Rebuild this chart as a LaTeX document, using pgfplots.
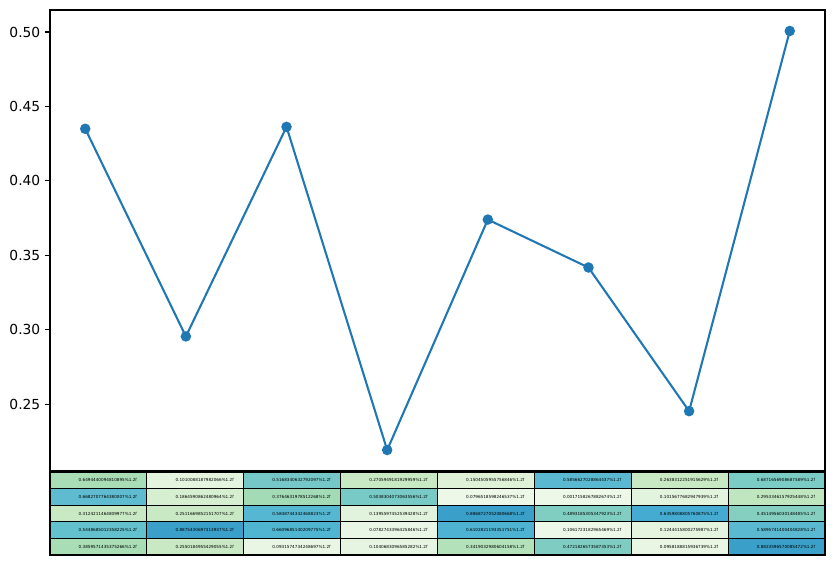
\documentclass[border=0pt]{standalone}
\usepackage{pgfplots}
\pgfplotsset{compat=1.18}
\usepackage{fontspec}
\setmainfont{DejaVu Sans}
\definecolor{mplblue}{HTML}{1F77B4}
% cell colours, row r (top=1), column c
\definecolor{t11}{HTML}{A8DDB5}\definecolor{t12}{HTML}{E4F4DF}\definecolor{t13}{HTML}{76C8C8}\definecolor{t14}{HTML}{C8E9C3}
\definecolor{t15}{HTML}{DFF2D8}\definecolor{t16}{HTML}{5AB9D0}\definecolor{t17}{HTML}{C8E9C3}\definecolor{t18}{HTML}{7BCCC4}
\definecolor{t21}{HTML}{5FBCD0}\definecolor{t22}{HTML}{D6EFD0}\definecolor{t23}{HTML}{A3DBB6}\definecolor{t24}{HTML}{78CAC6}
\definecolor{t25}{HTML}{EDF8E8}\definecolor{t26}{HTML}{EDF8E8}\definecolor{t27}{HTML}{E3F4DE}\definecolor{t28}{HTML}{BFE6BF}
\definecolor{t31}{HTML}{C8E9C3}\definecolor{t32}{HTML}{C8E9C3}\definecolor{t33}{HTML}{55B7D1}\definecolor{t34}{HTML}{E1F3DC}
\definecolor{t35}{HTML}{3A9FC9}\definecolor{t36}{HTML}{80CDC1}\definecolor{t37}{HTML}{45ABD0}\definecolor{t38}{HTML}{85CFC0}
\definecolor{t41}{HTML}{62C1CC}\definecolor{t42}{HTML}{3A9FC9}\definecolor{t43}{HTML}{4FB5D1}\definecolor{t44}{HTML}{EAF6E5}
\definecolor{t45}{HTML}{4EB3D3}\definecolor{t46}{HTML}{EDF8E8}\definecolor{t47}{HTML}{E4F4DF}\definecolor{t48}{HTML}{5AB9D0}
\definecolor{t51}{HTML}{A8DDB5}\definecolor{t52}{HTML}{C8E9C3}\definecolor{t53}{HTML}{E9F6E4}\definecolor{t54}{HTML}{E6F5E1}
\definecolor{t55}{HTML}{B3E1B9}\definecolor{t56}{HTML}{7FCDC2}\definecolor{t57}{HTML}{E8F6E3}\definecolor{t58}{HTML}{3A9FC9}
\begin{document}
\begin{tikzpicture}
\useasboundingbox (0,0) rectangle (601.2bp,406.8bp);
\begin{axis}[
  at={(36bp,67.68bp)}, anchor=south west,
  scale only axis, width=558bp, height=331.92bp,
  xmin=-0.35, xmax=7.35, ymin=0.2051, ymax=0.5148,
  xtick=\empty,
  ytick={0.25,0.30,0.35,0.40,0.45,0.50},
  ytick pos=left,
  tick align=outside,
  major tick length=3.5pt,
  tick style={black, line width=0.8pt},
  axis line style={line width=0.8pt},
  yticklabel style={font=\fontsize{10}{12}\selectfont, /pgf/number format/.cd, fixed, fixed zerofill, precision=2, assume math mode=true},
]
\addplot[mplblue, line width=1.5pt, mark=*, mark size=3pt, mark options={fill=mplblue, draw=mplblue}]
  coordinates {(0,0.435) (1,0.2955) (2,0.4363) (3,0.2192) (4,0.374) (5,0.3418) (6,0.2453) (7,0.5007)};
\end{axis}
% table: matrix plot reverses the y direction, so row r sits at y = r - 0.5
\begin{axis}[
  at={(36bp,7.2bp)}, anchor=south west,
  scale only axis, width=558bp, height=59.76bp,
  xmin=0, xmax=8, ymin=0, ymax=5,
  hide axis, clip=false,
]
\addplot[matrix plot, mesh/cols=8, mesh/color input=explicit, draw=black, line width=0.8bp]
  table[meta=c] {
x y c
0.5 0.5 color=t11
1.5 0.5 color=t12
2.5 0.5 color=t13
3.5 0.5 color=t14
4.5 0.5 color=t15
5.5 0.5 color=t16
6.5 0.5 color=t17
7.5 0.5 color=t18
0.5 1.5 color=t21
1.5 1.5 color=t22
2.5 1.5 color=t23
3.5 1.5 color=t24
4.5 1.5 color=t25
5.5 1.5 color=t26
6.5 1.5 color=t27
7.5 1.5 color=t28
0.5 2.5 color=t31
1.5 2.5 color=t32
2.5 2.5 color=t33
3.5 2.5 color=t34
4.5 2.5 color=t35
5.5 2.5 color=t36
6.5 2.5 color=t37
7.5 2.5 color=t38
0.5 3.5 color=t41
1.5 3.5 color=t42
2.5 3.5 color=t43
3.5 3.5 color=t44
4.5 3.5 color=t45
5.5 3.5 color=t46
6.5 3.5 color=t47
7.5 3.5 color=t48
0.5 4.5 color=t51
1.5 4.5 color=t52
2.5 4.5 color=t53
3.5 4.5 color=t54
4.5 4.5 color=t55
5.5 4.5 color=t56
6.5 4.5 color=t57
7.5 4.5 color=t58
};
\addplot[only marks, mark=none, nodes near coords, point meta=explicit symbolic,
  nodes near coords style={anchor=east, inner sep=0pt, font=\fontsize{3}{3}\selectfont, text=black}]
  table[x=x, y=y, meta=t] {
x y t
0.9 0.5 0.6494440094810895\%1.2f
1.9 0.5 0.1010088187982066\%1.2f
2.9 0.5 0.5168340632792097\%1.2f
3.9 0.5 0.2705949181929959\%1.2f
4.9 0.5 0.1504505955756846\%1.2f
5.9 0.5 0.5856627028864437\%1.2f
6.9 0.5 0.2638312251915629\%1.2f
7.9 0.5 0.6871656908687589\%1.2f
0.9 1.5 0.6682707764380007\%1.2f
1.9 1.5 0.1864590862480964\%1.2f
2.9 1.5 0.3764631978512268\%1.2f
3.9 1.5 0.5038304073063556\%1.2f
4.9 1.5 0.0796518598246537\%1.2f
5.9 1.5 0.0017158267882674\%1.2f
6.9 1.5 0.1015677682947939\%1.2f
7.9 1.5 0.2953346157925448\%1.2f
0.9 2.5 0.3124211464809977\%1.2f
1.9 2.5 0.2511669852151707\%1.2f
2.9 2.5 0.5848744342468823\%1.2f
3.9 2.5 0.1395597452539428\%1.2f
4.9 2.5 0.8868727052080668\%1.2f
5.9 2.5 0.4893185305347923\%1.2f
6.9 2.5 0.6359808805760875\%1.2f
7.9 2.5 0.4514956030148485\%1.2f
0.9 3.5 0.5448685012358225\%1.2f
1.9 3.5 0.8875430697313937\%1.2f
2.9 3.5 0.6609685140209775\%1.2f
3.9 3.5 0.0782743396425846\%1.2f
4.9 3.5 0.6102821193351751\%1.2f
5.9 3.5 0.1061723182965469\%1.2f
6.9 3.5 0.1244415800275987\%1.2f
7.9 3.5 0.5895741400404828\%1.2f
0.9 4.5 0.3859571435375266\%1.2f
1.9 4.5 0.2550184955429055\%1.2f
2.9 4.5 0.0931574734248697\%1.2f
3.9 4.5 0.1040683096585282\%1.2f
4.9 4.5 0.3419032980604158\%1.2f
5.9 4.5 0.4721826573587353\%1.2f
6.9 4.5 0.0958188815936739\%1.2f
7.9 4.5 0.8823596570085472\%1.2f
};
\end{axis}
\end{tikzpicture}
\end{document}
